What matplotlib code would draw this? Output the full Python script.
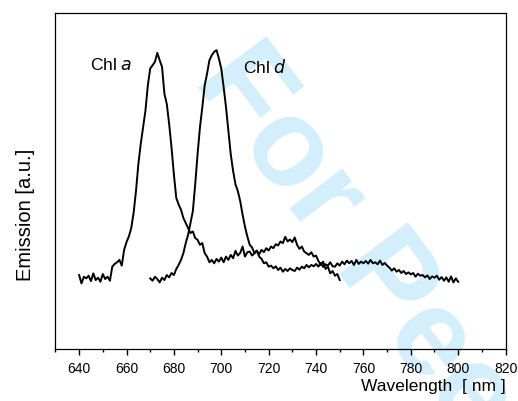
import matplotlib
matplotlib.use('Agg')
import matplotlib.pyplot as plt
from matplotlib.ticker import MultipleLocator
import numpy as np

plt.rcParams['font.family'] = ['Liberation Sans', 'DejaVu Sans']

# emission spectra (1 nm steps, arbitrary units)
chl_a_start, chl_a_end = 640, 750
chl_a = [22, 19.5, 21.5, 21, 21.8, 20.2, 22.5, 20.5, 21.2, 20,
         22.3, 20.8, 21.5, 20.3, 24.5, 25.3, 25.8, 26.5, 24.8, 29.5,
         31.8, 33.5, 36, 40.5, 47, 55, 61, 66, 71, 78.5,
         83.5, 84.5, 85.5, 88.2, 86, 84, 76, 73, 67, 60,
         52, 45, 43, 41.5, 39, 37.5, 36, 34.5, 35, 33,
         32.5, 31, 31.5, 28.5, 27.5, 25.8, 26.5, 25.5, 26.8, 26,
         27.2, 25.8, 27.5, 26.5, 28, 27, 29.2, 27.8, 28.6, 30.5,
         27.5, 28.8, 29, 27.8, 28.5, 29.3, 28.2, 29.5, 28.8, 30,
         29.3, 30.5, 30, 31.2, 30.8, 32, 31.5, 33.4, 32, 32.6,
         31.8, 33.2, 31, 29.8, 30.5, 29, 28.5, 28, 28.8, 27.5,
         27.8, 26.2, 25, 26, 23.8, 24.5, 22.5, 23.2, 21.8, 22.3,
         20.5]

chl_d_start, chl_d_end = 670, 800
chl_d = [21, 20.3, 21.5, 20.8, 19.8, 21.2, 20.5, 22, 21.3, 22.6,
         22, 23.8, 25, 26.5, 28.5, 31.5, 34, 37.5, 41, 49,
         58, 66, 72, 78.5, 82, 86, 87.5, 88.5, 89, 86.5,
         83.5, 78, 72, 65, 58, 53, 49, 47, 44, 40,
         36.4, 33.5, 31, 30.2, 28.5, 29.2, 27.5, 26.8, 25.5, 25.8,
         24.5, 24.8, 24, 24.6, 23.5, 24.2, 23, 23.8, 23.2, 24,
         23.5, 23.2, 24.2, 23.6, 24.5, 24, 25, 24.3, 25, 24.6,
         25.3, 24.5, 25.6, 24.4, 25.2, 24.8, 25.8, 24.6, 24.5, 25.5,
         24.8, 26, 25.2, 26.3, 25.5, 26.2, 25, 26.5, 25.3, 26,
         25.5, 26.2, 25.4, 26.5, 25.5, 25.8, 25.2, 26.3, 25, 25.6,
         24.8, 24.2, 23.3, 24, 23, 23.5, 22.6, 23.2, 22.3, 22.8,
         22.2, 22.6, 21.5, 22.4, 21.8, 22, 21.3, 21.9, 20.8, 21.6,
         21.2, 21.8, 20.6, 21.4, 20.3, 21.3, 20, 21.6, 19.8, 21,
         20]

wl_a = np.arange(chl_a_start, chl_a_end + 1)
wl_d = np.arange(chl_d_start, chl_d_end + 1)

fig = plt.figure(figsize=(5.18, 4.01), dpi=100)
ax = fig.add_axes([0.107, 0.130, 0.869, 0.837])
ax.patch.set_alpha(0)

# watermark
fig.text(0.372, 0.800, 'For Peer Review', rotation=-53, rotation_mode='anchor',
         ha='left', va='baseline', fontsize=89, fontweight='bold',
         color='#d3effc', zorder=-1)

ax.plot(wl_a, chl_a, color='black', lw=1.4)
ax.plot(wl_d, chl_d, color='black', lw=1.4)

ax.text(644.6, 84.5, 'Chl $\\it{a}$', fontsize=12.5, va='center')
ax.text(709.3, 84.0, 'Chl $\\it{d}$', fontsize=12.5, va='center')

ax.set_xlim(630, 820)
ax.set_ylim(0, 100)
ax.xaxis.set_major_locator(MultipleLocator(20))
ax.xaxis.set_minor_locator(MultipleLocator(10))
ax.tick_params(axis='x', which='major', direction='out', length=4.3, width=1,
               labelsize=10, pad=5.5)
ax.tick_params(axis='x', which='minor', direction='out', length=2.5, width=1)
ax.set_yticks([])
for s in ax.spines.values():
    s.set_linewidth(0.9)

ax.set_ylabel('Emission [a.u.]', fontsize=14.5)
ax.yaxis.set_label_coords(-0.046, 0.40)
ax.text(1.0, -0.112, 'Wavelength  [ nm ]', transform=ax.transAxes,
        ha='right', va='center', fontsize=12.5)

plt.savefig('out.png', dpi=100)
